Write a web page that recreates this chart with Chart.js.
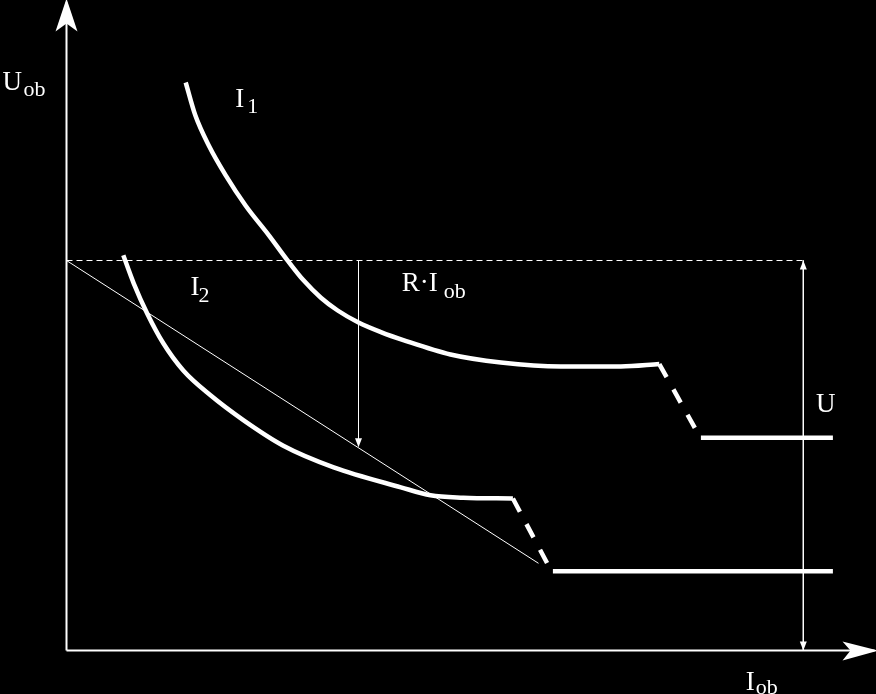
<!DOCTYPE html>
<html>
<head>
<meta charset="utf-8">
<script src="https://cdn.jsdelivr.net/npm/chart.js@4/dist/chart.umd.min.js"></script>
<style>
  html, body { margin: 0; padding: 0; background: #000; }
  #wrap { width: 876px; height: 694px; }
</style>
</head>
<body>
<div id="wrap"><canvas id="myChart" width="876" height="694"></canvas></div>
<script>
// values (Iob along x, Uob along y, arbitrary units)
var uLevel = 4.875;

var i1Iob = [1.49, 1.61, 1.78, 1.99, 2.24, 2.53, 2.76, 2.96, 3.18, 3.39, 3.65, 3.93, 4.21, 4.80, 5.43, 6.18, 6.93, 7.41];
var i1Uob = [7.10, 6.69, 6.31, 5.94, 5.56, 5.19, 4.88, 4.63, 4.41, 4.25, 4.10, 3.98, 3.88, 3.70, 3.60, 3.55, 3.55, 3.58];
var i1DropIob = [7.41, 7.90];
var i1DropUob = [3.58, 2.70];
var i1TailIob = [7.93, 9.58];
var i1TailUob = [2.66, 2.66];

var i2Iob = [0.71, 0.84, 1.01, 1.21, 1.46, 1.80, 2.21, 2.71, 3.34, 4.18, 4.55, 4.96, 5.58];
var i2Uob = [4.94, 4.59, 4.21, 3.84, 3.50, 3.19, 2.88, 2.56, 2.29, 2.04, 1.94, 1.91, 1.90];
var i2DropIob = [5.58, 6.03];
var i2DropUob = [1.90, 1.05];
var i2TailIob = [6.08, 9.58];
var i2TailUob = [0.99, 0.99];

var loadIob = [0, 5.90];
var loadUob = [uLevel, 1.09];

var rIobAt = 3.65;      // where the R·Iob arrow sits
var rIobEnd = 2.54;     // arrow tip on the load line
var uArrowAt = 9.21;    // where the U arrow sits
var uDashEnd = 9.21;

var axisXMax = 10.1;
var axisYMax = 8.1;

function pts(xs, ys) {
  var out = [];
  for (var i = 0; i < xs.length; i++) out.push({x: xs[i], y: ys[i]});
  return out;
}

var thick = 4.5;

function line(data, width, extra) {
  var ds = {
    data: data,
    showLine: true,
    borderColor: '#fff',
    backgroundColor: '#fff',
    borderWidth: width,
    pointRadius: 0,
    tension: 0,
    fill: false
  };
  for (var k in extra) ds[k] = extra[k];
  return ds;
}

var labels = [
  {x: -0.80, y: 7.01, main: 'U', sub: 'ob', dx: 21, dy: 6},
  {x: 2.11, y: 6.79, main: 'I', sub: '1', dx: 12, dy: 6},
  {x: 1.55, y: 4.44, main: 'I', sub: '2', dx: 8, dy: 7},
  {x: 4.19, y: 4.50, main: 'R·I', sub: 'ob', dx: 42, dy: 7},
  {x: 9.37, y: 2.98, main: 'U', sub: '', dx: 0, dy: 0},
  {x: 8.49, y: -0.49, main: 'I', sub: 'ob', dx: 10, dy: 4}
];

var extras = {
  id: 'extras',
  afterDatasetsDraw: function(chart) {
    var ctx = chart.ctx;
    var xs = chart.scales.x, ys = chart.scales.y;
    var px = function(v) { return xs.getPixelForValue(v); };
    var py = function(v) { return ys.getPixelForValue(v); };
    ctx.save();
    ctx.fillStyle = '#fff';

    // axis arrowheads
    var tx = px(0), ty = py(axisYMax) - 4;
    ctx.beginPath();
    ctx.moveTo(tx, ty);
    ctx.lineTo(tx + 11, ty + 33);
    ctx.lineTo(tx, ty + 25);
    ctx.lineTo(tx - 11, ty + 33);
    ctx.closePath();
    ctx.fill();

    tx = px(axisXMax) + 4; ty = py(0);
    ctx.beginPath();
    ctx.moveTo(tx, ty);
    ctx.lineTo(tx - 36, ty - 9);
    ctx.lineTo(tx - 28, ty);
    ctx.lineTo(tx - 36, ty + 10);
    ctx.closePath();
    ctx.fill();

    // small arrowheads
    function small(x, y, dir) {
      ctx.beginPath();
      ctx.moveTo(x, y);
      ctx.lineTo(x - 3.5, y - dir * 9);
      ctx.lineTo(x + 3.5, y - dir * 9);
      ctx.closePath();
      ctx.fill();
    }
    small(px(rIobAt), py(rIobEnd), 1);
    small(px(uArrowAt), py(0), 1);
    small(px(uArrowAt), py(uLevel), -1);

    // labels
    ctx.textBaseline = 'alphabetic';
    ctx.textAlign = 'left';
    labels.forEach(function(l) {
      var x = px(l.x), y = py(l.y);
      ctx.font = '27px "Liberation Serif", "Times New Roman", serif';
      ctx.fillText(l.main, x, y);
      if (l.sub) {
        ctx.font = '22px "Liberation Serif", "Times New Roman", serif';
        ctx.fillText(l.sub, x + l.dx, y + l.dy);
      }
    });
    ctx.restore();
  }
};

var bg = {
  id: 'bg',
  beforeDraw: function(chart) {
    var ctx = chart.ctx;
    ctx.save();
    ctx.fillStyle = '#000';
    ctx.fillRect(0, 0, chart.width, chart.height);
    ctx.restore();
  }
};

new Chart(document.getElementById('myChart').getContext('2d'), {
  type: 'scatter',
  data: {
    datasets: [
      line(pts([0, 0], [0, axisYMax]), 2),
      line(pts([0, axisXMax], [0, 0]), 2),
      line(pts([0, uDashEnd], [uLevel, uLevel]), 1, {borderDash: [6, 4]}),
      line(pts(loadIob, loadUob), 1),
      line(pts([rIobAt, rIobAt], [uLevel, rIobEnd + 0.05]), 1),
      line(pts([uArrowAt, uArrowAt], [uLevel, 0]), 1),
      line(pts(i1Iob, i1Uob), thick, {cubicInterpolationMode: 'monotone'}),
      line(pts(i1DropIob, i1DropUob), thick, {borderDash: [15, 14]}),
      line(pts(i1TailIob, i1TailUob), thick),
      line(pts(i2Iob, i2Uob), thick, {cubicInterpolationMode: 'monotone'}),
      line(pts(i2DropIob, i2DropUob), thick, {borderDash: [15, 14]}),
      line(pts(i2TailIob, i2TailUob), thick)
    ]
  },
  options: {
    responsive: false,
    animation: false,
    layout: {padding: 0},
    plugins: {legend: {display: false}, tooltip: {enabled: false}},
    scales: {
      // half-pixel offsets keep the 1px lines crisp
      x: {type: 'linear', display: false, min: -0.83125, max: 10.11875},
      y: {type: 'linear', display: false, min: -0.54375, max: 8.13125}
    }
  },
  plugins: [bg, extras]
});
</script>
</body>
</html>
